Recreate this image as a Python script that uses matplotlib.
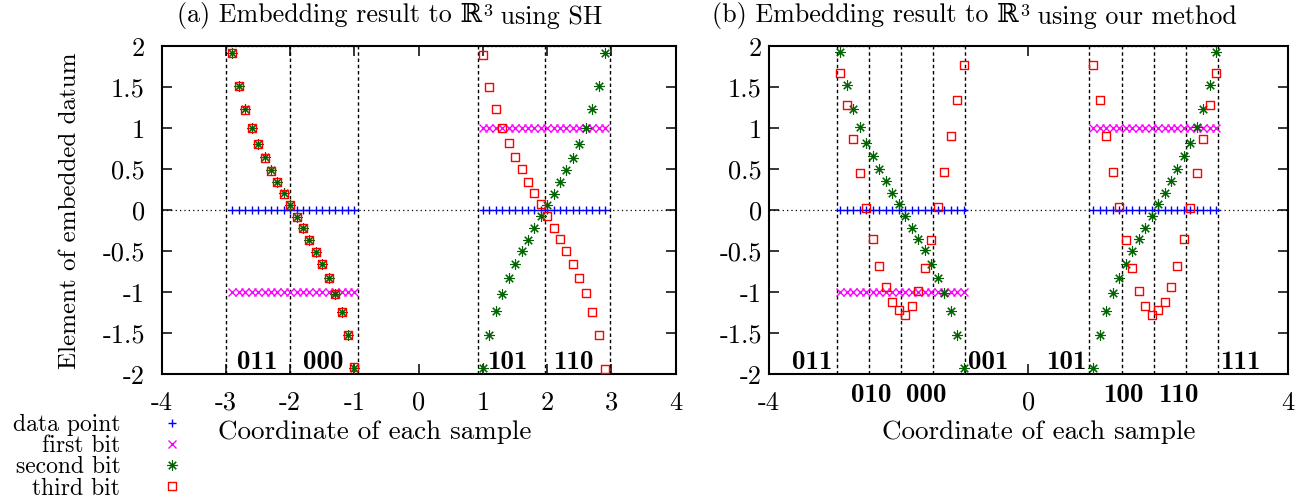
import numpy as np
import matplotlib
matplotlib.use('Agg')
import matplotlib.pyplot as plt
from matplotlib.path import Path

plt.rcParams['font.family'] = ['cmr10', 'DejaVu Serif']
plt.rcParams['mathtext.fontset'] = 'cm'
plt.rcParams['axes.unicode_minus'] = False

FS = 18

# sample coordinates (two clusters)
x_neg = [-2.9, -2.8, -2.7, -2.6, -2.5, -2.4, -2.3, -2.2, -2.1, -2.0,
         -1.9, -1.8, -1.7, -1.6, -1.5, -1.4, -1.3, -1.2, -1.1, -1.0]
x_pos = [1.0, 1.1, 1.2, 1.3, 1.4, 1.5, 1.6, 1.7, 1.8, 1.9,
         2.0, 2.1, 2.2, 2.3, 2.4, 2.5, 2.6, 2.7, 2.8, 2.9]

data_neg = [0.0] * 20
data_pos = [0.0] * 20
first_neg = [-1.0] * 20
first_pos = [1.0] * 20

# (a) spectral hashing
sh_second_neg = [1.92, 1.51, 1.23, 1.00, 0.81, 0.65, 0.49, 0.35, 0.21, 0.07,
                 -0.08, -0.22, -0.36, -0.51, -0.66, -0.83, -1.02, -1.24, -1.52, -1.92]
sh_second_pos = [-1.92, -1.52, -1.23, -1.02, -0.83, -0.66, -0.50, -0.36, -0.21, -0.07,
                 0.07, 0.20, 0.35, 0.49, 0.64, 0.81, 1.00, 1.23, 1.51, 1.92]
sh_third_neg = [1.92, 1.51, 1.22, 1.00, 0.81, 0.64, 0.48, 0.34, 0.20, 0.06,
                -0.08, -0.22, -0.36, -0.51, -0.66, -0.83, -1.02, -1.24, -1.52, -1.91]
sh_third_pos = [1.89, 1.50, 1.23, 1.00, 0.82, 0.65, 0.50, 0.35, 0.21, 0.08,
                -0.07, -0.21, -0.35, -0.50, -0.65, -0.82, -1.01, -1.24, -1.52, -1.94]

# (b) our method
our_second_neg = [1.93, 1.53, 1.23, 1.01, 0.82, 0.66, 0.50, 0.36, 0.21, 0.08,
                  -0.07, -0.21, -0.35, -0.49, -0.65, -0.82, -1.01, -1.23, -1.52, -1.92]
our_second_pos = [-1.92, -1.52, -1.23, -1.01, -0.82, -0.65, -0.50, -0.35, -0.21, -0.07,
                  0.08, 0.21, 0.36, 0.50, 0.66, 0.82, 1.01, 1.23, 1.53, 1.93]
our_third_neg = [1.68, 1.29, 0.87, 0.45, 0.03, -0.35, -0.68, -0.94, -1.12, -1.21,
                 -1.28, -1.17, -0.98, -0.70, -0.36, 0.04, 0.47, 0.91, 1.35, 1.77]
our_third_pos = [1.77, 1.35, 0.91, 0.47, 0.04, -0.36, -0.70, -0.98, -1.17, -1.28,
                 -1.21, -1.12, -0.94, -0.68, -0.35, 0.03, 0.45, 0.87, 1.29, 1.68]

# region boxes (x positions of vertical separators)
sh_boxes = [[-3.0, -2.0, -0.95], [0.92, 1.96, 2.98]]
our_boxes = [[-2.95, -2.46, -1.96, -1.47, -0.98], [0.94, 1.44, 1.94, 2.43, 2.92]]

sh_codes = [('011', -2.52, -1.93), ('000', -1.49, -1.93),
            ('101', 1.385, -1.93), ('110', 2.41, -1.93)]
our_codes = [('011', -3.34, -1.93), ('001', -0.62, -1.93),
             ('101', 0.58, -1.93), ('111', 3.27, -1.93),
             ('010', -2.43, -2.34), ('000', -1.57, -2.34),
             ('100', 1.46, -2.34), ('110', 2.32, -2.34)]

ytick_vals = [-2, -1.5, -1, -0.5, 0, 0.5, 1, 1.5, 2]
ytick_labels = ['-2', '-1.5', '-1', '-0.5', '0', '0.5', '1', '1.5', '2']

# open square with a dot in the middle
sq = Path([(-1, -1), (1, -1), (1, 1), (-1, 1), (-1, -1),
           (-0.1, -0.1), (0.1, -0.1), (0.1, 0.1), (-0.1, 0.1), (-0.1, -0.1)],
          [Path.MOVETO, Path.LINETO, Path.LINETO, Path.LINETO, Path.CLOSEPOLY] * 2)

W, H = 1303, 499
fig = plt.figure(figsize=(W / 100, H / 100), dpi=100)
ax1 = fig.add_axes([161.7 / W, 1 - 374.3 / H, 514 / W, 328 / H])
ax2 = fig.add_axes([769 / W, 1 - 374.3 / H, 518.7 / W, 328 / H])


def draw(ax, second_neg, second_pos, third_neg, third_pos, boxes, codes):
    ax.axhline(0, color='black', lw=0.9, ls=(0, (1, 2.5)), zorder=1)
    for edges in boxes:
        ax.vlines(edges, -2, 2, colors='black', lw=1, linestyles=(0, (2.5, 2)), zorder=1)
        ax.hlines([-2, 2], edges[0], edges[-1], colors='#555555', lw=1,
                  linestyles=(0, (1.5, 1.5)), zorder=1)
    xs = x_neg + x_pos
    h1, = ax.plot(xs, data_neg + data_pos, ls='none', marker='+', ms=6, mew=1,
                  color='#0000ff', zorder=3)
    h2, = ax.plot(xs, first_neg + first_pos, ls='none', marker='x', ms=5.5, mew=1,
                  color='#ff00ff', zorder=3)
    h3, = ax.plot(xs, second_neg + second_pos, ls='none', marker=(8, 2, 0), ms=7.5, mew=0.8,
                  color='#006400', zorder=4)
    h4, = ax.plot(xs, third_neg + third_pos, ls='none', marker=sq, ms=5.8, mew=1,
                  mfc='none', mec='#ff0000', zorder=5)
    for txt, x, y in codes:
        ax.text(x, y, txt, fontfamily='cmb10', fontsize=19.5, ha='center', va='baseline')
    ax.set_xlim(-4, 4)
    ax.set_ylim(-2, 2)
    ax.set_yticks(ytick_vals)
    ax.set_yticklabels(ytick_labels)
    ax.tick_params(direction='in', top=True, right=True, length=7, width=1.1,
                   labelsize=19)
    for s in ax.spines.values():
        s.set_linewidth(1.5)
    return [h1, h2, h3, h4]


def title(ax, x_left, head, tail):
    # head ends with the double-struck R, then a raised 3, then the rest
    t1 = fig.text(x_left / W, 1 - 22 / H, head, ha='left', va='baseline', fontsize=18.7)
    t2 = ax.annotate('3', xy=(1, 0), xycoords=t1, xytext=(1, 7.5),
                     textcoords='offset points', ha='left', va='bottom',
                     fontsize=13, annotation_clip=False)
    ax.annotate(tail, xy=(1, 0), xycoords=(t2, t1), ha='left', va='bottom',
                fontsize=18.7, annotation_clip=False)


handles = draw(ax1, sh_second_neg, sh_second_pos, sh_third_neg, sh_third_pos,
               sh_boxes, sh_codes)
ax1.set_xticks([-4, -3, -2, -1, 0, 1, 2, 3, 4])
ax1.set_xticklabels(['-4', '-3', '-2', '-1', '0', '1', '2', '3', '4'])
ax1.tick_params(axis='x', pad=12)
ax1.tick_params(axis='y', pad=12)

draw(ax2, our_second_neg, our_second_pos, our_third_neg, our_third_pos,
     our_boxes, our_codes)
ax2.set_xticks([-4, 0, 4])
ax2.set_xticklabels(['-4', '0', '4'])
ax2.tick_params(axis='x', pad=12)
ax2.tick_params(axis='y', pad=5)

title(ax1, 177, '(a) Embedding result to \u211d', ' using SH')
title(ax2, 712, '(b) Embedding result to \u211d', ' using our method')

fig.text(374.5 / W, 1 - 432 / H, 'Coordinate of each sample', ha='center', va='center',
         fontsize=19.5)
fig.text(1039 / W, 1 - 432 / H, 'Coordinate of each sample', ha='center', va='center',
         fontsize=19.5)
fig.text(70 / W, 1 - 211 / H, 'Element of embedded datum', ha='center', va='center',
         rotation=90, fontsize=FS)

fig.legend(handles, ['data point', 'first bit', 'second bit', 'third bit'],
           loc='upper right', bbox_to_anchor=(184 / W, 1 - 414 / H),
           markerfirst=False, frameon=False, borderpad=0, borderaxespad=0,
           handlelength=1, handletextpad=1.7, labelspacing=-0.04, fontsize=17)

fig.savefig('out.png', dpi=100)
